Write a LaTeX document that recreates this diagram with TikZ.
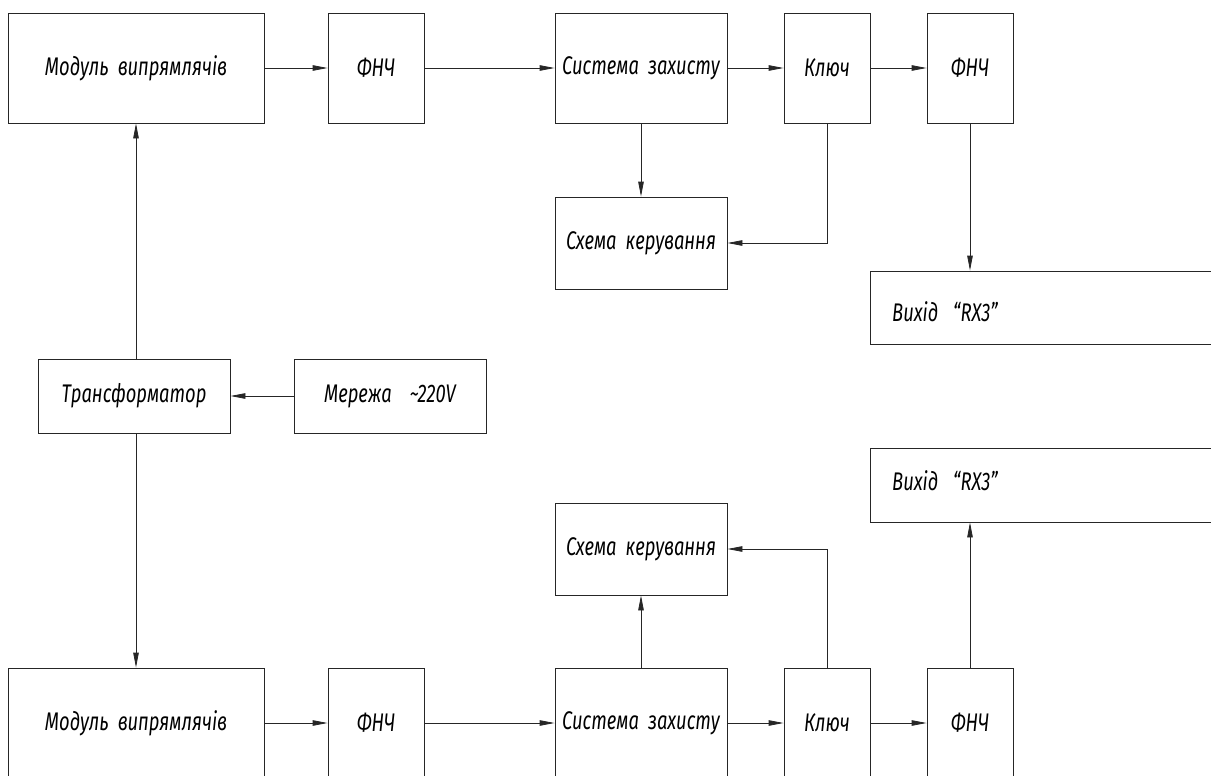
\documentclass[tikz,border=0pt]{standalone}
\usepackage{fontspec}
\setmainfont{Fira Sans Italic}[FakeStretch=0.72, WordSpace=1.9]
\usetikzlibrary{arrows.meta}
\tikzset{
  blk/.style={draw=black!85, line width=0.8pt, rectangle, inner sep=0pt, anchor=center,
    font=\fontsize{25.5}{29}\selectfont},
  lbl/.style={inner sep=0pt, font=\fontsize{25.5}{29}\selectfont},
  conn/.style={draw=black!85, line width=0.8pt, -{Triangle[length=15pt,width=5.5pt]}},
}
\begin{document}
\begin{tikzpicture}[x=1pt,y=-1pt]
\useasboundingbox (0,0) rectangle (1211,776);
\begin{scope}
\clip (0,0) rectangle (1211,776);
% top row
\node[blk, minimum width=256pt, minimum height=110pt] (m1) at (136,68) {Модуль випрямлячів};
\node[blk, minimum width=96pt, minimum height=110pt] (f1) at (376,68) {ФНЧ};
\node[blk, minimum width=172pt, minimum height=110pt] (s1) at (641,68) {Система захисту};
\node[blk, minimum width=86pt, minimum height=110pt] (k1) at (827,68) {Ключ};
\node[blk, minimum width=86pt, minimum height=110pt] (f2) at (970,68) {ФНЧ};
\node[blk, minimum width=172pt, minimum height=92pt] (c1) at (641,243) {Схема керування};
\node[blk, minimum width=380pt, minimum height=73pt] (v1) at (1060,307.5) {};
\node[lbl, anchor=west] (v1t) at (892,312) {Вихід\hspace{15pt}“RX3”};
% middle
\node[blk, minimum width=192pt, minimum height=74pt] (t) at (134,396) {Трансформатор};
\node[blk, minimum width=192pt, minimum height=74pt] (n) at (390,396) {Мережа\hspace{18pt}\textasciitilde220V};
% bottom row
\node[blk, minimum width=256pt, minimum height=110pt] (m2) at (136,723) {Модуль випрямлячів};
\node[blk, minimum width=96pt, minimum height=110pt] (f3) at (376,723) {ФНЧ};
\node[blk, minimum width=172pt, minimum height=110pt] (s2) at (641,723) {Система захисту};
\node[blk, minimum width=86pt, minimum height=110pt] (k2) at (827,723) {Ключ};
\node[blk, minimum width=86pt, minimum height=110pt] (f4) at (970,723) {ФНЧ};
\node[blk, minimum width=172pt, minimum height=92pt] (c2) at (641,549) {Схема керування};
\node[blk, minimum width=380pt, minimum height=74pt] (v2) at (1060,485) {};
\node[lbl, anchor=west] (v2t) at (892,481) {Вихід\hspace{15pt}“RX3”};
\end{scope}
% connectors top
\draw[conn] (m1) -- (f1);
\draw[conn] (f1) -- (s1);
\draw[conn] (s1) -- (k1);
\draw[conn] (k1) -- (f2);
\draw[conn] (s1) -- (c1);
\draw[conn] (k1.south) |- (c1.east);
\draw[conn] (f2.south) -- (f2.south |- v1.north);
% middle
\draw[conn] (m1.south |- t.north) -- (m1.south);
\draw[conn] (n) -- (t);
\draw[conn] (m2.north |- t.south) -- (m2.north);
% connectors bottom
\draw[conn] (m2) -- (f3);
\draw[conn] (f3) -- (s2);
\draw[conn] (s2) -- (k2);
\draw[conn] (k2) -- (f4);
\draw[conn] (s2) -- (c2);
\draw[conn] (k2.north) |- (c2.east);
\draw[conn] (f4.north) -- (f4.north |- v2.south);
\end{tikzpicture}
\end{document}
